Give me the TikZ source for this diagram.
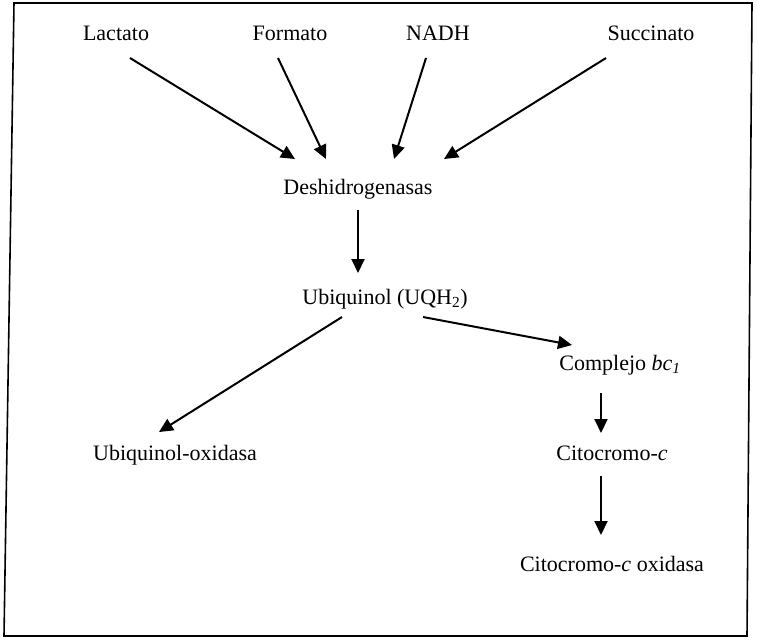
\documentclass[tikz,border=0pt]{standalone}
\usepackage{fontspec}
\setmainfont{Liberation Serif}
\usetikzlibrary{arrows.meta}

\begin{document}
\begin{tikzpicture}[x=1pt,y=-1pt,>={Triangle[length=14pt,width=13pt]},
    every node/.style={font=\fontsize{22}{26}\selectfont,inner sep=0pt,anchor=base},
    arr/.style={->,line width=2pt}]
  \useasboundingbox (0,0) rectangle (757,641);
  \draw[line width=1.6pt] (14,3) -- (752,3) -- (747,636) -- (4,636) -- cycle; % frame

  % substrates
  \node (lactato) at (116,40) {Lactato};
  \node (formato) at (290,40) {Formato};
  \node (nadh) at (438,40) {NADH};
  \node (succinato) at (651,40) {Succinato};

  \node (deshi) at (358,194) {Deshidrogenasas};
  \node (ubiq) at (385,304) {Ubiquinol (UQH\textsubscript{2})};
  \node (uox) at (175,460) {Ubiquinol-oxidasa};
  \node (complejo) at (620,370) {Complejo \textit{bc\textsubscript{1}}};
  \node (citc) at (612,460) {Citocromo-\textit{c}};
  \node (cox) at (612,571) {Citocromo-\textit{c} oxidasa};

  % arrow tips
  \coordinate (t1) at (295,159);
  \coordinate (t2) at (326,159);
  \coordinate (t3) at (394,159);
  \coordinate (t4) at (444,159);
  \coordinate (t5) at (358,273);
  \coordinate (t6) at (159,432);
  \coordinate (t7) at (572,345);
  \coordinate (t8) at (601,433);
  \coordinate (t9) at (601,535);

  % into the dehydrogenases
  \foreach \n/\dx/\t in {lactato/14/t1, formato/-12/t2, nadh/-12/t3, succinato/-45/t4} {
    \draw[arr] ([xshift=\dx pt,yshift=-18pt]\n.base) -- (\t);
  }

  % ubiquinol and its two branches
  \draw[arr] ([yshift=-16pt]deshi.base) -- (t5);
  \draw[arr] ([xshift=-43pt,yshift=-13pt]ubiq.base) -- (t6);
  \draw[arr] ([xshift=38pt,yshift=-13pt]ubiq.base) -- (t7);

  % cytochrome branch
  \draw[arr] ([xshift=-19pt,yshift=-23pt]complejo.base) -- (t8);
  \draw[arr] ([xshift=-11pt,yshift=-16pt]citc.base) -- (t9);

\end{tikzpicture}
\end{document}
